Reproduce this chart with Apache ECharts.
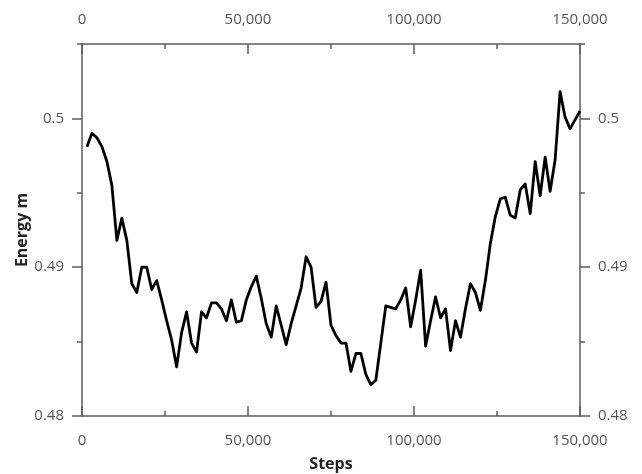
<!DOCTYPE html>
<html>
<head>
<meta charset="utf-8">
<title>Energy m vs Steps</title>
<script src="https://cdn.jsdelivr.net/npm/echarts@6/dist/echarts.min.js"></script>
<style>
  html, body { margin: 0; padding: 0; background: #fff; }
  #chart { width: 642px; height: 474px; }
</style>
</head>
<body>
<div id="chart"></div>
<script>
// Training steps at which the energy was recorded
const steps = [
  1500, 3000, 4500, 6000, 7500, 9000, 10500, 12000, 13500, 15000,
  16500, 18000, 19500, 21000, 22500, 24000, 25500, 27000, 28500, 30000,
  31500, 33000, 34500, 36000, 37500, 39000, 40500, 42000, 43500, 45000,
  46500, 48000, 49500, 51000, 52500, 54000, 55500, 57000, 58500, 60000,
  61500, 63000, 64500, 66000, 67500, 69000, 70500, 72000, 73500, 75000,
  76500, 78000, 79500, 81000, 82500, 84000, 85500, 87000, 88500, 90000,
  91500, 93000, 94500, 96000, 97500, 99000, 100500, 102000, 103500, 105000,
  106500, 108000, 109500, 111000, 112500, 114000, 115500, 117000, 118500, 120000,
  121500, 123000, 124500, 126000, 127500, 129000, 130500, 132000, 133500, 135000,
  136500, 138000, 139500, 141000, 142500, 144000, 145500, 147000, 148500, 150000
];

// Energy m at each step
const energy = [
  0.4981, 0.4990, 0.4987, 0.4981, 0.4971, 0.4955, 0.4918, 0.4933, 0.4918, 0.4889,
  0.4883, 0.4900, 0.4900, 0.4885, 0.4891, 0.4878, 0.4864, 0.4851, 0.4833, 0.4856,
  0.4870, 0.4849, 0.4843, 0.4870, 0.4866, 0.4876, 0.4876, 0.4872, 0.4864, 0.4878,
  0.4863, 0.4864, 0.4878, 0.4887, 0.4894, 0.4879, 0.4862, 0.4853, 0.4874, 0.4861,
  0.4848, 0.4862, 0.4874, 0.4886, 0.4907, 0.4900, 0.4873, 0.4877, 0.4890, 0.4861,
  0.4854, 0.4849, 0.4849, 0.4830, 0.4842, 0.4842, 0.4828, 0.4821, 0.4824, 0.4849,
  0.4874, 0.4873, 0.4872, 0.4878, 0.4886, 0.4860, 0.4878, 0.4898, 0.4847, 0.4864,
  0.4880, 0.4866, 0.4872, 0.4844, 0.4864, 0.4853, 0.4872, 0.4889, 0.4883, 0.4871,
  0.4891, 0.4916, 0.4934, 0.4946, 0.4947, 0.4935, 0.4933, 0.4952, 0.4956, 0.4936,
  0.4971, 0.4948, 0.4974, 0.4951, 0.4972, 0.5018, 0.5001, 0.4993, 0.4999, 0.5005
];

// Tick positions
const xMajorTicks = [0, 50000, 100000, 150000];
const yMajorTicks = [0.48, 0.49, 0.5];
const yMinorTicks = [0.485, 0.495, 0.505];

const FONT = '"Open Sans", "Noto Sans", sans-serif';
const AXIS_COLOR = '#5c5c5c';
const LABEL_COLOR = '#555';
const LABEL_SIZE = 15;

const points = steps.map((s, i) => [s, energy[i]]);

function xAxisDef(position) {
  return {
    type: 'value', position: position,
    min: 0, max: 150000, interval: 50000,
    axisLine: { show: true, onZero: false, lineStyle: { color: AXIS_COLOR, width: 1.5 } },
    axisTick: { show: true, inside: true, length: 10,
                lineStyle: { color: AXIS_COLOR, width: 1.5 } },
    minorTick: { show: true, splitNumber: 2, length: 5,
                 lineStyle: { color: AXIS_COLOR, width: 1.5 } },
    axisLabel: { show: true, customValues: xMajorTicks, margin: 17,
                 color: LABEL_COLOR, fontFamily: FONT, fontSize: LABEL_SIZE,
                 formatter: v => Number(v).toLocaleString('en-US') },
    splitLine: { show: false },
    minorSplitLine: { show: false }
  };
}

function yAxisDef(position, ticks, len, withLabels) {
  return {
    type: 'value', position: position,
    min: 0.48, max: 0.505, interval: 0.01,
    axisLine: { show: withLabels, onZero: false, lineStyle: { color: AXIS_COLOR, width: 1.5 } },
    axisTick: { show: true, inside: false, length: len, customValues: ticks,
                lineStyle: { color: AXIS_COLOR, width: 1.5 } },
    axisLabel: { show: withLabels, customValues: yMajorTicks, margin: 18,
                 color: LABEL_COLOR, fontFamily: FONT, fontSize: LABEL_SIZE,
                 formatter: v => String(Number(v.toFixed(3))) },
    splitLine: { show: false }
  };
}

const xBottom = xAxisDef('bottom');
xBottom.name = 'Steps';
xBottom.nameLocation = 'middle';
xBottom.nameGap = 40;
xBottom.nameMoveOverlap = false;
xBottom.nameTextStyle = { color: '#222', fontFamily: FONT, fontSize: 16, fontWeight: 'bold' };

const yLeft = yAxisDef('left', yMajorTicks, 10, true);
yLeft.name = 'Energy m';
yLeft.nameLocation = 'middle';
yLeft.nameGap = 52;
yLeft.nameMoveOverlap = false;
yLeft.nameTextStyle = { color: '#222', fontFamily: FONT, fontSize: 16, fontWeight: 'bold' };

const chart = echarts.init(document.getElementById('chart'), null, { renderer: 'canvas' });
chart.setOption({
  animation: false,
  backgroundColor: '#fff',
  grid: { left: 82, right: 62, top: 44, bottom: 58, containLabel: false, outerBoundsMode: 'none' },
  xAxis: [
    xBottom,
    xAxisDef('top')
  ],
  yAxis: [
    yLeft,
    yAxisDef('right', yMajorTicks, 10, true),
    yAxisDef('left', yMinorTicks, 5, false),
    yAxisDef('right', yMinorTicks, 5, false)
  ],
  series: [{
    type: 'line',
    xAxisIndex: 0,
    yAxisIndex: 0,
    data: points,
    showSymbol: false,
    symbol: 'none',
    lineStyle: { color: '#000', width: 2.8, join: 'round' },
    clip: true
  }]
});
</script>
</body>
</html>
